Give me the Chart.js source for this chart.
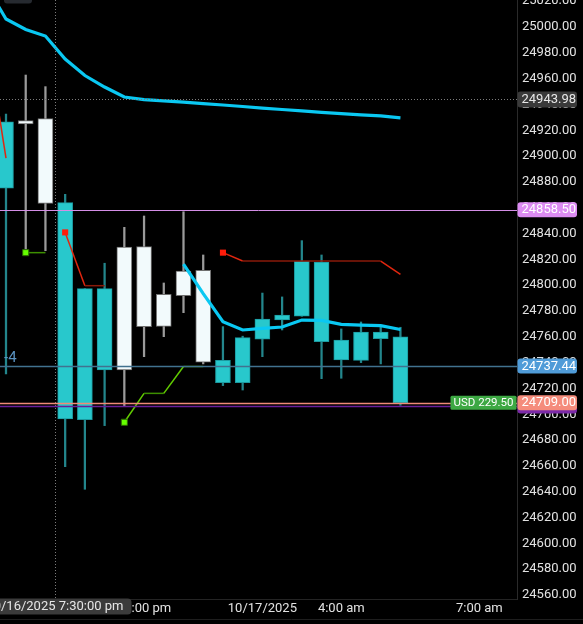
<!DOCTYPE html>
<html>
<head>
<meta charset="utf-8">
<script src="https://cdn.jsdelivr.net/npm/chart.js@4.4.1/dist/chart.umd.min.js"></script>
<style>
  html, body { margin: 0; padding: 0; background: #000; }
  #wrap { width: 583px; height: 624px; }
</style>
</head>
<body>
<div id="wrap"><canvas id="chart"></canvas></div>
<script>
// candles, index 0..20
var opens  = [24926.6, 24925.0, 24863.4, 24863.9, 24797.3, 24797.3, 24734.3, 24767.9, 24768.1, 24791.9, 24740.3, 24741.8, 24759.4, 24773.8, 24776.9, 24818.5, 24817.9, 24757.5, 24763.7, 24763.7, 24759.9];
var highs  = [24932.6, 24962.8, 24953.8, 24870.4, 24797.3, 24817.0, 24844.8, 24853.6, 24801.7, 24856.9, 24823.4, 24767.9, 24760.5, 24793.9, 24790.9, 24834.5, 24823.4, 24766.1, 24771.5, 24767.4, 24767.4];
var lows   = [24731.2, 24825.2, 24826.7, 24659.4, 24641.9, 24691.2, 24706.4, 24744.6, 24760.1, 24778.7, 24739.0, 24722.2, 24718.8, 24744.6, 24765.3, 24775.9, 24727.6, 24727.9, 24740.0, 24739.0, 24706.9];
var closes = [24875.1, 24927.5, 24929.0, 24696.4, 24695.8, 24734.3, 24829.6, 24829.9, 24792.9, 24811.0, 24811.5, 24724.5, 24724.5, 24758.1, 24773.0, 24775.9, 24756.3, 24742.1, 24741.8, 24758.6, 24709.0];

// indicator lines, index -1..20
var lineStart = -1;
var slowAvg  = [25032, 25006.2, 24998.1, 24993.0, 24975.2, 24962.4, 24953.5, 24945.8, 24943.8, 24942.8, 24941.8, 24940.7, 24939.6, 24938.4, 24937.2, 24936.1, 24935.0, 24933.9, 24932.9, 24932.0, 24931.1, 24929.6];
var fastAvg  = [null, null, null, null, null, null, null, null, null, null, 24816.4, 24793.5, 24771.7, 24765.3, 24766.5, 24767.6, 24773.0, 24772.7, 24769.7, 24769.0, 24768.6, 24765.7];
var redStop  = [24995, 24898.5, null, null, 24840.9, 24799.6, 24799.6, null, null, null, null, null, 24825.2, 24818.7, 24818.7, 24818.7, 24818.7, 24818.7, 24818.7, 24818.7, 24818.7, 24808.3];
var greenStop = [null, null, 24825.2, 24825.2, null, null, null, 24693.8, 24716.2, 24716.2, 24737.0, 24737.0, null, null, null, null, null, null, null, null, null, null];

// x axis labels at candle index
var timeTickIndex  = [7, 13, 17, 24];
var timeTickLabels = ["10:00 pm", "10/17/2025", "4:00 am", "7:00 am"];

// crosshair
var crossIndex = 2.48;
var crossPrice = 24943.98;
var crossTime = "10/16/2025 7:30:00 pm";

// price levels
var levelPrices = [24858.50, 24737.44, 24706.5, 24709.00];
var levelLabels = ["24858.50", "24737.44", "", "24709.00"];
var positionText = "-4";
var pnlText = "USD 229.50";

// styles
var levelLine  = ["#d48ee6", "#41728f", "#6a1f9a", "#f08a78"];
var levelBadge = ["#dc8cf2", "#4f9bd8", "#7b2aa8", "#f58c7c"];
var TEAL = "#28c8cc", WHITE = "#f2fafc";

function isDown(i) { return closes[i] < opens[i]; }
var bodyData = opens.map(function (o, i) { return { x: i, y: [o, closes[i]] }; });
var wickData = highs.map(function (h, i) { return { x: i, y: [lows[i], h] }; });
function linePoints(arr) {
  return arr.map(function (v, k) { return { x: lineStart + k, y: v }; });
}
function markerRadius(c) {
  var d = c.dataset.data, i = c.dataIndex;
  return d[i].y !== null && (i === 0 || d[i - 1].y === null) ? 4.3 : 0;
}

function roundRect(ctx, x, y, w, h, r) {
  ctx.beginPath();
  ctx.moveTo(x + r, y);
  ctx.arcTo(x + w, y, x + w, y + h, r);
  ctx.arcTo(x + w, y + h, x, y + h, r);
  ctx.arcTo(x, y + h, x, y, r);
  ctx.arcTo(x, y, x + w, y, r);
  ctx.closePath();
}

var overlay = {
  id: "overlay",
  afterDatasetsDraw: function (chart) {
    var ctx = chart.ctx, a = chart.chartArea;
    var xs = chart.scales.x, ys = chart.scales.y;
    ctx.save();
    ctx.lineWidth = 1;

    // crosshair
    ctx.strokeStyle = "#7c7c7c";
    ctx.setLineDash([1, 2]);
    var cx = Math.round(xs.getPixelForValue(crossIndex)) + 0.5;
    var cy = Math.round(ys.getPixelForValue(crossPrice)) + 0.5;
    ctx.beginPath(); ctx.moveTo(cx, a.top); ctx.lineTo(cx, a.bottom); ctx.stroke();
    ctx.beginPath(); ctx.moveTo(a.left, cy); ctx.lineTo(a.right, cy); ctx.stroke();
    ctx.setLineDash([]);

    // level lines
    levelPrices.forEach(function (p, i) {
      var y = Math.round(ys.getPixelForValue(p)) + 0.5;
      ctx.strokeStyle = levelLine[i];
      ctx.lineWidth = i === 0 ? 1 : 1.5;
      ctx.beginPath(); ctx.moveTo(a.left, y); ctx.lineTo(a.right, y); ctx.stroke();
    });

    // hide clipped price label under plot bottom
    ctx.fillStyle = "#000";
    ctx.fillRect(a.right + 1, a.bottom + 0.5, 80, 20);

    ctx.font = "13px Roboto";
    ctx.textBaseline = "middle";
    ctx.textAlign = "left";

    // price badges
    roundRect(ctx, a.right + 0.5, cy - 8, 59.5, 16, 3);
    ctx.fillStyle = "#3a3a3a"; ctx.fill();
    ctx.fillStyle = "#e8e8e8";
    ctx.fillText(crossPrice.toFixed(2), a.right + 4.5, cy + 0.5);

    levelPrices.forEach(function (p, i) {
      var y = ys.getPixelForValue(p);
      roundRect(ctx, a.right + 0.5, y - 7.5, 59.5, 15, 3);
      ctx.fillStyle = levelBadge[i]; ctx.fill();
      if (levelLabels[i]) {
        ctx.fillStyle = "#ffffff";
        ctx.fillText(levelLabels[i], a.right + 4.5, y + 0.5);
      }
    });

    // position size label
    ctx.fillStyle = "#5a92c0";
    ctx.font = "15px Roboto";
    ctx.fillText(positionText, a.left + 4, ys.getPixelForValue(levelPrices[1]) - 8);

    // P&L badge
    var py = ys.getPixelForValue(levelPrices[3]);
    roundRect(ctx, a.right - 66.5, py - 7, 66, 14, 1.5);
    ctx.fillStyle = "#3da843"; ctx.fill();
    ctx.fillStyle = "#ffffff";
    ctx.font = "11.5px Roboto";
    ctx.textAlign = "center";
    ctx.fillText(pnlText, a.right - 33.5, py + 0.5);

    // time badge
    ctx.font = "13px Roboto";
    roundRect(ctx, cx - 76, a.bottom - 0.5, 152, 16, 4);
    ctx.fillStyle = "#3b3b3b"; ctx.fill();
    ctx.fillStyle = "#e6e6e6";
    ctx.textAlign = "right";
    ctx.fillText(crossTime, cx + 68, a.bottom + 8);

    // bottom rule and top tab
    ctx.strokeStyle = "#1e1e1e";
    ctx.lineWidth = 1;
    ctx.beginPath(); ctx.moveTo(0, 619.5); ctx.lineTo(chart.width, 619.5); ctx.stroke();
    roundRect(ctx, 4, -6, 28, 9.5, 3);
    ctx.fillStyle = "#262a30"; ctx.fill();
    ctx.restore();
  }
};

Chart.defaults.font.family = "Roboto";
Chart.defaults.font.size = 13;

new Chart(document.getElementById("chart"), {
  type: "bar",
  data: {
    datasets: [
      {
        type: "bar",
        data: wickData,
        grouped: false,
        barThickness: 1.6,
        backgroundColor: wickData.map(function (d, i) { return isDown(i) ? "#23868c" : "#9a9a9a"; }),
        borderWidth: 0,
        order: 6
      },
      {
        type: "bar",
        data: bodyData,
        grouped: false,
        barThickness: 15,
        backgroundColor: bodyData.map(function (d, i) { return isDown(i) ? TEAL : WHITE; }),
        borderColor: bodyData.map(function (d, i) { return isDown(i) ? "#1c9aa0" : "#6e6e6e"; }),
        borderWidth: 1,
        borderSkipped: false,
        order: 5
      },
      {
        type: "line",
        data: linePoints(slowAvg),
        borderColor: "#0ac8f2",
        borderWidth: 3.2,
        pointRadius: 0,
        tension: 0,
        order: 2
      },
      {
        type: "line",
        data: linePoints(fastAvg),
        borderColor: "#0ac8f2",
        borderWidth: 3.2,
        pointRadius: 0,
        tension: 0,
        order: 2
      },
      {
        type: "line",
        data: linePoints(redStop),
        borderColor: "#c8200e",
        borderWidth: 1.5,
        segment: {
          borderColor: function (c) { return c.p0.parsed.y === c.p1.parsed.y ? "#8a1a0a" : "#e0260f"; }
        },
        pointStyle: "rect",
        pointRadius: markerRadius,
        pointBackgroundColor: "#ff1c0a",
        pointBorderWidth: 0,
        order: 1
      },
      {
        type: "line",
        data: linePoints(greenStop),
        borderColor: "#5cc800",
        borderWidth: 1.5,
        segment: {
          borderColor: function (c) { return c.p0.parsed.y === c.p1.parsed.y ? "#3d8f00" : "#62cc00"; }
        },
        pointStyle: "rect",
        pointRadius: markerRadius,
        pointBackgroundColor: "#66ff00",
        pointBorderColor: "#2a6a00",
        pointBorderWidth: 1,
        order: 1
      }
    ]
  },
  options: {
    responsive: true,
    maintainAspectRatio: false,
    animation: false,
    layout: { padding: 0, autoPadding: false },
    plugins: { legend: { display: false }, tooltip: { enabled: false } },
    scales: {
      x: {
        type: "linear",
        offset: false,
        min: -0.304,
        max: 25.91,
        grid: { display: false, drawTicks: false },
        border: { display: true, color: "#242424" },
        afterBuildTicks: function (axis) {
          axis.ticks = timeTickIndex.map(function (v) { return { value: v }; });
        },
        afterFit: function (axis) {
          axis.height = 25;
          axis.paddingLeft = 0;
          axis.paddingRight = 0;
        },
        ticks: {
          color: "#e2e2e2",
          padding: 2,
          maxRotation: 0,
          autoSkip: false,
          callback: function (v, i) { return timeTickLabels[i]; }
        }
      },
      y: {
        position: "right",
        min: 24556.9,
        max: 25020.92,
        grid: { display: false, drawTicks: false },
        border: { display: true, color: "#2a2a2a" },
        afterFit: function (axis) {
          axis.width = 66;
          axis.paddingTop = 0;
          axis.paddingBottom = 0;
        },
        ticks: {
          stepSize: 20,
          includeBounds: false,
          color: "#e2e2e2",
          padding: 5,
          callback: function (v) { return Number(v).toFixed(2); }
        }
      }
    }
  },
  plugins: [overlay]
});
</script>
</body>
</html>
